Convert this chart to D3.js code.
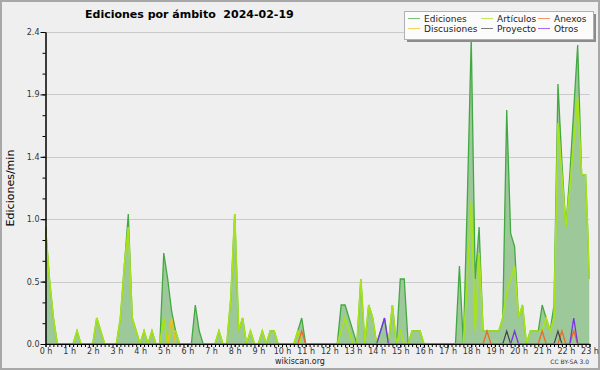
<!DOCTYPE html>
<html>
<head>
<meta charset="utf-8">
<script src="https://cdn.jsdelivr.net/npm/d3@7"></script>
<style>
  body { margin: 0; background: #efefef; }
  text { font-family: "DejaVu Sans", sans-serif; }
</style>
</head>
<body>
<div class="chart"></div>
<script>
// Data: edits per minute, one value per 10 minutes (0:00 .. 23:00)

const hourLabels = ["0 h", "1 h", "2 h", "3 h", "4 h", "5 h", "6 h", "7 h", "8 h", "9 h", "10 h", "11 h",
  "12 h", "13 h", "14 h", "15 h", "16 h", "17 h", "18 h", "19 h", "20 h", "21 h", "22 h", "23 h"];

const yTicks = [0, 0.48, 0.96, 1.44, 1.92, 2.4];

const ediciones = [
  0.9, 0.5, 0.2, 0, 0, 0,
  0, 0, 0.1, 0, 0, 0,
  0, 0.2, 0.1, 0, 0, 0,
  0, 0.2, 0.6, 1.0, 0.2, 0.1,
  0, 0.1, 0, 0.1, 0, 0,
  0.7, 0.5, 0.25, 0.1, 0, 0,
  0, 0, 0.3, 0.1, 0, 0,
  0, 0, 0.1, 0, 0, 0.35,
  1.0, 0.1, 0.2, 0, 0.1, 0,
  0, 0.1, 0, 0.1, 0.1, 0,
  0, 0, 0, 0, 0.1, 0.2,
  0, 0, 0, 0, 0, 0,
  0, 0, 0, 0.3, 0.3, 0.2,
  0.1, 0, 0.5, 0, 0.3, 0.2,
  0, 0.1, 0.2, 0, 0.3, 0,
  0.5, 0.5, 0, 0.1, 0.1, 0.1,
  0, 0, 0, 0, 0, 0,
  0, 0, 0, 0.6, 0, 1.1,
  2.35, 0.5, 0.9, 0.1, 0.1, 0.1,
  0.1, 0.1, 0.2, 1.8, 0.85, 0.75,
  0.2, 0.3, 0, 0.1, 0.1, 0.1,
  0.3, 0.2, 0.1, 0.3, 2.0, 1.4,
  0.9, 1.3, 1.8, 2.3, 1.3, 1.3,
  0.5
];

const articulos = [
  0.9, 0.5, 0.2, 0, 0, 0,
  0, 0, 0.1, 0, 0, 0,
  0, 0.2, 0.1, 0, 0, 0,
  0, 0.2, 0.6, 0.9, 0.2, 0.1,
  0, 0.1, 0, 0.1, 0, 0,
  0.2, 0, 0.1, 0.1, 0, 0,
  0, 0, 0, 0, 0, 0,
  0, 0, 0.1, 0, 0, 0.35,
  1.0, 0.1, 0.2, 0, 0.1, 0,
  0, 0.1, 0, 0.1, 0.1, 0,
  0, 0, 0, 0, 0.1, 0,
  0, 0, 0, 0, 0, 0,
  0, 0, 0, 0.1, 0.2, 0.1,
  0, 0, 0.5, 0, 0.3, 0.2,
  0, 0, 0, 0, 0.3, 0,
  0.1, 0, 0, 0.1, 0.1, 0.1,
  0, 0, 0, 0, 0, 0,
  0, 0, 0, 0, 0, 0.5,
  1.1, 0.1, 0.7, 0.1, 0.1, 0.1,
  0.1, 0.1, 0.2, 0.4, 0.5, 0.6,
  0.2, 0.3, 0, 0.1, 0.1, 0.1,
  0.1, 0.2, 0.1, 0.2, 1.7, 1.3,
  0.9, 1.2, 1.55, 1.9, 1.3, 1.3,
  0.5
];

const anexos = [
  0, 0, 0, 0, 0, 0,  0, 0, 0, 0, 0, 0,  0, 0, 0, 0, 0, 0,  0, 0, 0, 0, 0, 0,
  0, 0, 0, 0, 0, 0,  0, 0, 0, 0, 0, 0,  0, 0, 0, 0, 0, 0,  0, 0, 0, 0, 0, 0,
  0, 0, 0, 0, 0, 0,  0, 0, 0, 0, 0, 0,  0, 0, 0, 0, 0, 0.1, 0, 0, 0, 0, 0, 0,
  0, 0, 0, 0, 0, 0,  0, 0, 0, 0, 0, 0,  0, 0, 0, 0, 0, 0,  0, 0, 0, 0, 0, 0,
  0, 0, 0, 0, 0, 0,  0, 0, 0, 0, 0, 0,  0, 0, 0, 0, 0.1, 0,  0, 0, 0, 0, 0, 0,
  0, 0, 0, 0, 0, 0,  0, 0, 0, 0, 0, 0,  0, 0, 0, 0, 0, 0,  0, 0, 0, 0, 0, 0,
  0, 0, 0, 0, 0, 0,  0, 0, 0, 0, 0, 0,  0, 0, 0, 0, 0, 0,  0, 0, 0, 0, 0, 0,
  0
];

const discusiones = [
  0, 0, 0, 0, 0, 0,  0, 0, 0, 0, 0, 0,  0, 0, 0, 0, 0, 0,  0, 0, 0, 0, 0, 0,
  0, 0, 0, 0, 0, 0,  0, 0, 0.2, 0, 0, 0,  0, 0, 0, 0, 0, 0,  0, 0, 0, 0, 0, 0,
  0, 0, 0, 0, 0, 0,  0, 0, 0, 0, 0, 0,  0, 0, 0, 0, 0, 0,  0, 0, 0, 0, 0, 0,
  0, 0, 0, 0, 0, 0,  0, 0, 0, 0, 0, 0,  0, 0, 0, 0, 0, 0,  0, 0, 0, 0, 0, 0,
  0, 0, 0, 0, 0, 0,  0, 0, 0, 0, 0, 0,  0, 0, 0, 0, 0, 0,  0, 0, 0, 0, 0, 0,
  0, 0, 0, 0, 0, 0,  0, 0, 0, 0, 0, 0,  0, 0, 0, 0, 0, 0,  0, 0, 0, 0, 0, 0,
  0, 0, 0, 0, 0, 0,  0, 0, 0, 0, 0, 0,  0, 0, 0, 0, 0, 0,  0, 0, 0, 0, 0, 0,
  0
];

const proyecto = [
  0, 0, 0, 0, 0, 0,  0, 0, 0, 0, 0, 0,  0, 0, 0, 0, 0, 0,  0, 0, 0, 0, 0, 0,
  0, 0, 0, 0, 0, 0,  0, 0, 0, 0, 0, 0,  0, 0, 0, 0, 0, 0,  0, 0, 0, 0, 0, 0,
  0, 0, 0, 0, 0, 0,  0, 0, 0, 0, 0, 0,  0, 0, 0, 0, 0, 0,  0, 0, 0, 0, 0, 0,
  0, 0, 0, 0, 0, 0,  0, 0, 0, 0, 0, 0,  0, 0, 0, 0, 0, 0,  0, 0, 0, 0, 0, 0,
  0, 0, 0, 0, 0, 0,  0, 0, 0, 0, 0, 0,  0, 0, 0, 0, 0, 0,  0, 0, 0, 0.1, 0, 0,
  0, 0, 0, 0, 0, 0,  0, 0, 0, 0, 0.1, 0,  0, 0, 0, 0, 0, 0,  0, 0, 0, 0, 0, 0,
  0, 0, 0, 0, 0, 0,  0, 0, 0, 0, 0, 0,  0, 0, 0, 0, 0, 0,  0, 0, 0, 0, 0, 0,
  0
];

const otros = [
  0, 0, 0, 0, 0, 0,  0, 0, 0, 0, 0, 0,  0, 0, 0, 0, 0, 0,  0, 0, 0, 0, 0, 0,
  0, 0, 0, 0, 0, 0,  0, 0, 0, 0, 0, 0,  0, 0, 0, 0, 0, 0,  0, 0, 0, 0, 0, 0,
  0, 0, 0, 0, 0, 0,  0, 0, 0, 0, 0, 0,  0, 0, 0, 0, 0, 0,  0, 0, 0, 0, 0, 0,
  0, 0, 0, 0, 0, 0,  0, 0, 0, 0, 0, 0,  0, 0, 0, 0, 0, 0,  0, 0, 0, 0, 0, 0,
  0, 0, 0, 0, 0, 0,  0, 0, 0, 0, 0, 0,  0, 0, 0, 0, 0, 0,  0, 0, 0, 0, 0, 0,
  0, 0, 0, 0, 0, 0,  0, 0, 0, 0, 0, 0,  0, 0, 0, 0, 0, 0,  0, 0, 0, 0, 0, 0,
  0, 0, 0, 0, 0, 0,  0, 0, 0, 0, 0, 0,  0, 0, 0, 0, 0, 0,  0, 0, 0, 0, 0, 0,
  0
];
// Otros: sparse peaks
otros[85] = 0.1; otros[86] = 0.2; otros[119] = 0.1; otros[134] = 0.2;
anexos[126] = 0.1; anexos[131] = 0.1; anexos[134] = 0.1;

// Measurements

const w = 600;
const h = 370;
const x0 = 45.5;
const x1 = 589.5;
const yTop = 32;
const yBottom = 344;

const colorEdiciones = "#42a842";
const colorEdicionesFill = "#9dc99a";
const colorArticulos = "#a6e31a";
const colorAnexos = "#ee6a2a";
const colorDiscusiones = "#eec21a";
const colorProyecto = "#444444";
const colorOtros = "#7a33e8";

const svg = d3
  .select(".chart")
  .append("svg")
  .attr("width", w)
  .attr("height", h);

// Background and frame

svg
  .append("rect")
  .attr("x", 1)
  .attr("y", 1)
  .attr("width", w - 2)
  .attr("height", h - 2)
  .attr("fill", "#efefef")
  .attr("stroke", "#a8a8a8")
  .attr("stroke-width", 2);

// Scales

const xScale = d3.scaleLinear().domain([0, ediciones.length - 1]).range([x0, x1]);
const yScale = d3.scaleLinear().domain([0, 2.4]).range([yBottom, yTop]);

// Grid

svg
  .append("g")
  .selectAll("line")
  .data(yTicks.slice(1))
  .enter()
  .append("line")
  .attr("x1", x0)
  .attr("x2", x1)
  .attr("y1", (d) => Math.round(yScale(d)) + 0.5)
  .attr("y2", (d) => Math.round(yScale(d)) + 0.5)
  .attr("stroke", "#cacaca");

// Clip

svg
  .append("clipPath")
  .attr("id", "plot-clip")
  .append("rect")
  .attr("x", x0)
  .attr("y", 0)
  .attr("width", x1 - x0)
  .attr("height", yBottom - 0.5);

const plot = svg.append("g").attr("clip-path", "url(#plot-clip)");

// Ediciones area

const area = d3
  .area()
  .x((d, i) => xScale(i))
  .y0(yScale(0))
  .y1((d) => yScale(d));

const line = d3
  .line()
  .x((d, i) => xScale(i))
  .y((d) => yScale(d));

plot
  .append("path")
  .datum(ediciones)
  .attr("d", area)
  .attr("fill", colorEdicionesFill);

plot
  .append("path")
  .datum(ediciones)
  .attr("d", line)
  .attr("fill", "none")
  .attr("stroke", colorEdiciones)
  .attr("stroke-width", 1.3);

// Other series

const lineSeries = [
  { values: articulos, color: colorArticulos, width: 1.7 },
  { values: discusiones, color: colorDiscusiones, width: 1.3 },
  { values: anexos, color: colorAnexos, width: 1.3 },
  { values: proyecto, color: colorProyecto, width: 1.2 },
  { values: otros, color: colorOtros, width: 1.3 },
];

plot
  .selectAll(".series")
  .data(lineSeries)
  .enter()
  .append("path")
  .attr("class", "series")
  .attr("d", (d) => line(d.values))
  .attr("fill", "none")
  .attr("stroke", (d) => d.color)
  .attr("stroke-width", (d) => d.width);

// Axes

const styleAxis = (g, size) => {
  g.attr("font-family", '"DejaVu Sans", sans-serif')
    .attr("font-size", size)
    .attr("color", "#000");
  g.selectAll("text").attr("fill", "#333");
};

svg
  .append("g")
  .attr("transform", `translate(0, ${yBottom})`)
  .call(
    d3.axisBottom(xScale)
      .tickValues(d3.range(0, ediciones.length))
      .tickSize(3)
      .tickSizeOuter(0)
      .tickFormat("")
  );

svg
  .append("g")
  .attr("transform", `translate(0, ${yBottom})`)
  .call(
    d3.axisBottom(xScale)
      .tickValues(d3.range(0, ediciones.length, 6))
      .tickSize(3)
      .tickSizeOuter(0)
      .tickPadding(1)
      .tickFormat((d, i) => hourLabels[i])
  )
  .call((g) => styleAxis(g, 8));

svg
  .append("g")
  .attr("transform", `translate(${x0}, 0)`)
  .call(
    d3.axisLeft(yScale)
      .tickValues(d3.range(0, 2.41, 0.16))
      .tickSize(3)
      .tickSizeOuter(0)
      .tickFormat("")
  );

svg
  .append("g")
  .attr("transform", `translate(${x0}, 0)`)
  .call(
    d3.axisLeft(yScale)
      .tickValues(yTicks)
      .tickSize(5)
      .tickSizeOuter(0)
      .tickPadding(1)
      .tickFormat(d3.format(".1f"))
  )
  .call((g) => styleAxis(g, 8));

// Titles

svg
  .append("text")
  .attr("x", 85)
  .attr("y", 18)
  .attr("font-size", 11)
  .attr("font-weight", "bold")
  .text("Ediciones por ámbito  2024-02-19")
  .attr("xml:space", "preserve")
  .style("white-space", "pre");

svg
  .append("text")
  .attr("transform", `translate(14, ${(yTop + yBottom) / 2}) rotate(-90)`)
  .attr("text-anchor", "middle")
  .attr("font-size", 11)
  .text("Ediciones/min");

svg
  .append("text")
  .attr("x", 300)
  .attr("y", 364)
  .attr("text-anchor", "middle")
  .attr("font-size", 8)
  .attr("fill", "#222")
  .text("wikiscan.org");

svg
  .append("text")
  .attr("x", 589)
  .attr("y", 364)
  .attr("text-anchor", "end")
  .attr("font-size", 6)
  .attr("fill", "#333")
  .text("CC BY-SA 3.0");

// Legend

const legendData = [
  { text: "Ediciones", color: colorEdiciones, col: 0, row: 0 },
  { text: "Artículos", color: colorArticulos, col: 1, row: 0 },
  { text: "Anexos", color: colorAnexos, col: 2, row: 0 },
  { text: "Discusiones", color: colorDiscusiones, col: 0, row: 1 },
  { text: "Proyecto", color: colorProyecto, col: 1, row: 1 },
  { text: "Otros", color: colorOtros, col: 2, row: 1 },
];
const legendCols = [408, 481, 538];

const legend = svg.append("g").attr("class", "legend");

legend
  .append("rect")
  .attr("x", 407)
  .attr("y", 14)
  .attr("width", 189)
  .attr("height", 28)
  .attr("fill", "#8c8c8c");

legend
  .append("rect")
  .attr("x", 404.5)
  .attr("y", 11.5)
  .attr("width", 189)
  .attr("height", 28)
  .attr("fill", "#fbfbfb")
  .attr("stroke", "#b0b0b0");

legend
  .selectAll("line")
  .data(legendData)
  .enter()
  .append("line")
  .attr("x1", (d) => legendCols[d.col])
  .attr("x2", (d) => legendCols[d.col] + 12)
  .attr("y1", (d) => 18.5 + d.row * 10)
  .attr("y2", (d) => 18.5 + d.row * 10)
  .attr("stroke", (d) => d.color)
  .attr("stroke-opacity", 0.7);

legend
  .selectAll("text")
  .data(legendData)
  .enter()
  .append("text")
  .attr("x", (d) => legendCols[d.col] + 16)
  .attr("y", (d) => 21.5 + d.row * 10)
  .attr("font-size", 9)
  .attr("fill", "#222")
  .text((d) => d.text);
</script>
</body>
</html>
